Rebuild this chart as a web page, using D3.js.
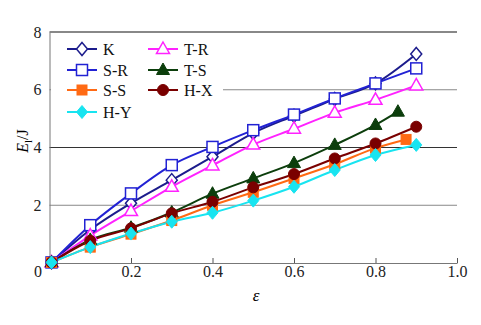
<!DOCTYPE html>
<html><head><meta charset="utf-8">
<script src="https://cdn.jsdelivr.net/npm/d3@7"></script>
<style>body{margin:0;background:#fff}svg{display:block}
text{font-family:"Liberation Serif","Times New Roman",serif}</style>
</head><body><svg id="c" width="481" height="325"></svg>
<script>
const xBase = [0.005,0.1,0.2,0.3,0.4,0.5,0.6,0.7,0.8,0.9];
const xTS = [0.005,0.1,0.2,0.3,0.4,0.5,0.6,0.7,0.8,0.855];
const xSS = [0.005,0.1,0.2,0.3,0.4,0.5,0.6,0.7,0.8,0.875];
const valK  = [0.02,1.15,2.07,2.87,3.68,4.50,5.10,5.68,6.22,7.24];
const valSR = [0.02,1.31,2.41,3.39,4.02,4.60,5.14,5.70,6.22,6.74];
const valTR = [0.02,0.95,1.80,2.64,3.38,4.10,4.65,5.20,5.65,6.15];
const valTS = [0.02,0.80,1.22,1.75,2.40,2.93,3.46,4.09,4.78,5.24];
const valSS = [0.02,0.55,1.00,1.47,2.00,2.45,2.93,3.42,3.98,4.28];
const valHX = [0.02,0.77,1.20,1.72,2.12,2.62,3.08,3.62,4.14,4.72];
const valHY = [0.02,0.55,1.02,1.43,1.74,2.16,2.64,3.22,3.74,4.09];
const xTicks = [0,0.2,0.4,0.6,0.8,1.0];
const yTicks = [2,4,6,8];

const FONT = "'Liberation Serif','Times New Roman',serif";
const series = [
  {name:"K",   xs:xBase, ys:valK,  color:"#1c1c8c", shape:"diamond", fill:false},
  {name:"S-R", xs:xBase, ys:valSR, color:"#2222d4", shape:"square",  fill:false},
  {name:"T-R", xs:xBase, ys:valTR, color:"#ff22ff", shape:"triangle",fill:false},
  {name:"T-S", xs:xTS,   ys:valTS, color:"#0c3e0c", shape:"triangle",fill:true},
  {name:"S-S", xs:xSS,   ys:valSS, color:"#ff6a14", shape:"square",  fill:true},
  {name:"H-X", xs:xBase, ys:valHX, color:"#7a0000", shape:"circle",  fill:true},
  {name:"H-Y", xs:xBase, ys:valHY, color:"#18e4f0", shape:"diamond", fill:true}
];

const svg = d3.select("#c");
const x = d3.scaleLinear().domain([0,1]).range([49.5,457]);
const y = d3.scaleLinear().domain([0,8]).range([263,32]);

// gridlines
svg.append("g").selectAll("line").data([2,4,6]).join("line")
  .attr("x1",x(0)).attr("x2",x(1)).attr("y1",d=>y(d)).attr("y2",d=>y(d))
  .attr("stroke",d=>d===4?"#333":"#888").attr("stroke-width",1);
svg.append("line").attr("x1",x(0)).attr("x2",x(1)).attr("y1",y(8)).attr("y2",y(8))
  .attr("stroke","#888").attr("stroke-width",2);

// axes
const xAxis = d3.axisBottom(x).tickValues(xTicks).tickSize(-5).tickSizeOuter(0)
  .tickFormat(d=>d===0?"0":d3.format(".1f")(d));
const gx = svg.append("g").attr("transform",`translate(0,${y(0)})`).call(xAxis)
  .attr("font-family",FONT).attr("font-size",16);
gx.select(".domain").attr("stroke","#777");
gx.selectAll(".tick line").attr("stroke","#555");
gx.selectAll(".tick text").attr("y",0).attr("dy","0").attr("transform","translate(0,14)").attr("fill","#222");
gx.selectAll(".tick").filter(d=>d===0).select("text").attr("transform","translate(-12,14)");
gx.selectAll(".tick").filter(d=>d===0).select("line").remove();

const yAxis = d3.axisLeft(y).tickValues(yTicks).tickSize(0).tickSizeOuter(0).tickPadding(8);
const gy = svg.append("g").attr("transform",`translate(${x(0)},0)`).call(yAxis)
  .attr("font-family",FONT).attr("font-size",16);
gy.select(".domain").attr("stroke","#777");
gy.selectAll(".tick text").attr("fill","#222");

// axis titles
svg.append("text").attr("x",256).attr("y",301).attr("text-anchor","middle")
  .attr("font-family",FONT).attr("font-size",17).style("font-style","italic").text("ε");
const yl = svg.append("text").attr("transform","translate(28,141) rotate(-90)").attr("text-anchor","middle")
  .attr("font-family",FONT).attr("font-size",16);
yl.append("tspan").style("font-style","italic").text("E");
yl.append("tspan").attr("dy",4).attr("font-size",11).text("l");
yl.append("tspan").attr("dy",-4).text("/J");

function marker(g, shape, color, fill, cx, cy){
  let el;
  if(shape==="diamond"){
    el = g.append("path").attr("d",`M${cx},${cy-6.5}L${cx+5.5},${cy}L${cx},${cy+6.5}L${cx-5.5},${cy}Z`);
  } else if(shape==="square"){
    const s = fill?10:11;
    el = g.append("rect").attr("x",cx-s/2).attr("y",cy-s/2).attr("width",s).attr("height",s);
  } else if(shape==="triangle"){
    el = g.append("path").attr("d",`M${cx},${cy-7}L${cx+6.5},${cy+4.5}L${cx-6.5},${cy+4.5}Z`);
  } else {
    el = g.append("circle").attr("cx",cx).attr("cy",cy).attr("r",5.5);
  }
  el.attr("fill",fill?color:"#fff").attr("stroke",color).attr("stroke-width",fill?1:1.5);
  return el;
}

const line = d3.line().curve(d3.curveMonotoneX);
series.forEach(s=>{
  const pts = s.xs.map((xv,i)=>[x(xv),y(s.ys[i])]);
  svg.append("path").attr("d",line(pts)).attr("fill","none").attr("stroke",s.color).attr("stroke-width",2);
});
series.forEach(s=>{
  const g = svg.append("g");
  s.xs.forEach((xv,i)=>marker(g,s.shape,s.color,s.fill,x(xv),y(s.ys[i])));
});

// legend
const lg = svg.append("g");
lg.append("rect").attr("x",51).attr("y",35).attr("width",172).attr("height",90).attr("fill","#fff");
const legOrder = ["K","S-R","S-S","H-Y","T-R","T-S","H-X"];
const pos = [[67,49],[67,70],[67,90],[67,112],[148,49],[148,70],[148,90]];
legOrder.forEach((n,i)=>{
  const s = series.find(d=>d.name===n);
  const [lx,ly] = pos[i];
  lg.append("line").attr("x1",lx).attr("x2",lx+30).attr("y1",ly).attr("y2",ly).attr("stroke",s.color).attr("stroke-width",2);
  marker(lg,s.shape,s.color,s.fill,lx+15,ly);
  lg.append("text").attr("x",lx+36).attr("y",ly+5.5).attr("font-family",FONT).attr("font-size",16).attr("fill","#111").text(n);
});
</script></body></html>
